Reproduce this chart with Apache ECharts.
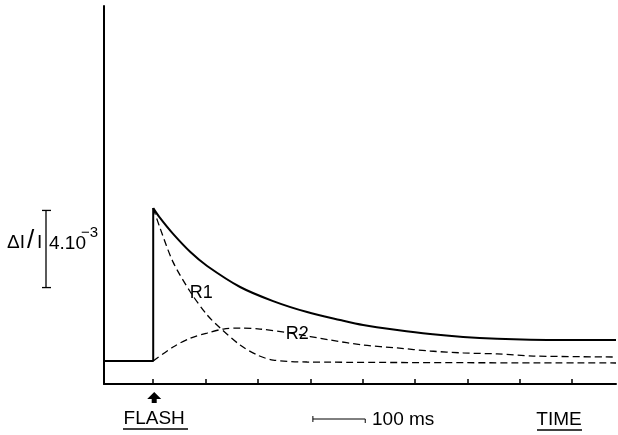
<!DOCTYPE html>
<html>
<head>
<meta charset="utf-8">
<script src="https://cdn.jsdelivr.net/npm/echarts@6.0.0/dist/echarts.min.js"></script>
<style>
  html, body { margin: 0; padding: 0; background: #fff; }
  .box { width: 618px; height: 435px; }
</style>
</head>
<body>
<div class="box"></div>
<script>
// time = ms after the flash, signal = dI/I in units of 1e-3
var timeTicks = [0, 100, 200, 300, 400, 500, 600, 700, 800];
var totalBefore = [[-94, 1.19], [0, 1.19], [0, 9.12]];
var totalDecay = [[0, 9.12], [13, 8.61], [38, 7.78], [71, 6.84], [103, 6.12], [166, 5.03], [229, 4.30],
  [294, 3.73], [357, 3.32], [401, 3.06], [466, 2.80], [529, 2.59], [592, 2.44], [657, 2.34], [720, 2.29], [800, 2.28], [884, 2.28]];
var r1 = [[0, 9.12], [13, 8.09], [38, 6.32], [71, 4.77], [103, 3.58], [128, 2.90], [166, 2.02], [199, 1.50],
  [229, 1.24], [294, 1.14], [884, 1.09]];
var r2 = [[0, 1.19], [38, 1.92], [71, 2.38], [103, 2.64], [134, 2.85], [166, 2.90], [204, 2.85], [262, 2.64],
  [338, 2.28], [401, 2.02], [466, 1.87], [529, 1.71], [592, 1.61], [657, 1.56], [726, 1.45], [884, 1.40]];
var labelR1 = [92, 4.72];
var labelR2 = [275, 2.59];
var timeBar = [305, 405];   // 100 ms scale bar
var signalBar = [5, 9];     // 4.10^-3 scale bar

var font = "'Liberation Sans', Arial, sans-serif";
var chart = echarts.init(document.querySelector(".box"));

function tag(name, pos) {
  return {
    symbol: "circle",
    symbolSize: 1,
    itemStyle: { color: "rgba(0,0,0,0)" },
    label: { show: true, position: "inside", color: "#000", fontSize: 18, fontFamily: font, formatter: name },
    data: [{ coord: pos }]
  };
}

var option = {
  animation: false,
  grid: { left: 104, right: 2, top: 6, bottom: 51 },
  xAxis: {
    type: "value",
    min: -94,
    max: 884,
    axisLine: { show: true, lineStyle: { color: "#000", width: 2 } },
    axisTick: { show: true, inside: true, length: 5, customValues: timeTicks, lineStyle: { color: "#000", width: 1.5 } },
    axisLabel: { show: false },
    splitLine: { show: false }
  },
  yAxis: {
    type: "value",
    min: 0,
    max: 19.6,
    axisLine: { show: true, onZero: false, lineStyle: { color: "#000", width: 2 } },
    axisTick: { show: false },
    axisLabel: { show: false },
    splitLine: { show: false }
  },
  series: [
    {
      type: "line", data: totalBefore, symbol: "none",
      lineStyle: { color: "#000", width: 2 }
    },
    {
      type: "line", data: totalDecay, symbol: "none", smooth: 0.3,
      lineStyle: { color: "#000", width: 2 }
    },
    {
      type: "line", data: r1, symbol: "none", smooth: 0.3,
      lineStyle: { color: "#000", width: 1.3, type: [7, 4] },
      markPoint: tag("R1", labelR1)
    },
    {
      type: "line", data: r2, symbol: "none", smooth: 0.3,
      lineStyle: { color: "#000", width: 1.3, type: [7, 4] },
      markPoint: tag("R2", labelR2)
    }
  ]
};
chart.setOption(option);

// annotations below the axis and at the left
var px = function (t) { return chart.convertToPixel({ xAxisIndex: 0 }, t); };
var py = function (v) { return chart.convertToPixel({ yAxisIndex: 0 }, v); };
var cx = px(0) + 1;
var x0 = px(timeBar[0]), x1 = px(timeBar[1]);
var y0 = py(signalBar[0]), y1 = py(signalBar[1]);
var black = { stroke: "#000", lineWidth: 1.3 };

chart.setOption({
  graphic: [
    { type: "polygon", shape: { points: [[cx, 392], [cx + 7, 399], [cx + 2.5, 399], [cx + 2.5, 403], [cx - 2.5, 403], [cx - 2.5, 399], [cx - 7, 399]] }, style: { fill: "#000" } },
    { type: "text", x: cx, y: 419, style: { text: "FLASH", font: "19px " + font, fill: "#000", align: "center", verticalAlign: "middle" } },
    { type: "line", shape: { x1: 123, y1: 429, x2: 188, y2: 429 }, style: black },
    { type: "line", shape: { x1: x0, y1: 419, x2: x1, y2: 419 }, style: { stroke: "#000", lineWidth: 1 } },
    { type: "line", shape: { x1: x0, y1: 416, x2: x0, y2: 422 }, style: { stroke: "#000", lineWidth: 1 } },
    { type: "line", shape: { x1: x1, y1: 419, x2: x1, y2: 423 }, style: { stroke: "#000", lineWidth: 1 } },
    { type: "text", x: 372, y: 420, style: { text: "100 ms", font: "19px " + font, fill: "#000", verticalAlign: "middle" } },
    { type: "text", x: 559, y: 420, style: { text: "TIME", font: "19px " + font, fill: "#000", align: "center", verticalAlign: "middle" } },
    { type: "line", shape: { x1: 537, y1: 430, x2: 582, y2: 430 }, style: black },
    { type: "line", shape: { x1: 46, y1: y0, x2: 46, y2: y1 }, style: black },
    { type: "line", shape: { x1: 42, y1: y0, x2: 51, y2: y0 }, style: black },
    { type: "line", shape: { x1: 42, y1: y1, x2: 51, y2: y1 }, style: black },
    { type: "text", x: 7, y: 243, style: { text: "\u0394I", font: "19px " + font, fill: "#000", verticalAlign: "middle" } },
    { type: "text", x: 27, y: 241, style: { text: "/", font: "26px " + font, fill: "#000", verticalAlign: "middle" } },
    { type: "text", x: 37, y: 243, style: { text: "I", font: "19px " + font, fill: "#000", verticalAlign: "middle" } },
    { type: "text", x: 49, y: 244, style: { text: "4.10", font: "19px " + font, fill: "#000", verticalAlign: "middle" } },
    { type: "text", x: 81, y: 233, style: { text: "\u22123", font: "15px " + font, fill: "#000", verticalAlign: "middle" } }
  ]
});

window.addEventListener("resize", function () {
  chart.resize();
});
</script>
</body>
</html>
